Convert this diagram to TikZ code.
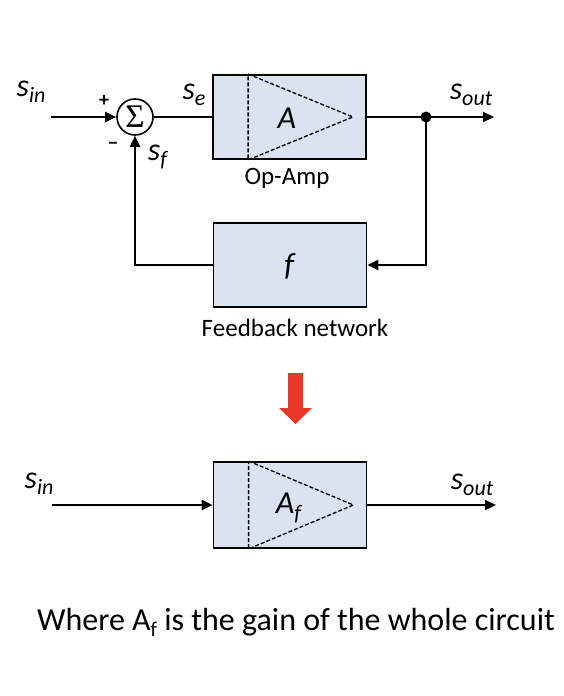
\documentclass[tikz,border=0pt]{standalone}
\usepackage{fontspec}
\setmainfont{Carlito}
\newfontfamily\sumfont{Liberation Serif}
\usetikzlibrary{calc,arrows.meta}
\definecolor{boxfill}{RGB}{220,227,240}
\definecolor{arrowred}{RGB}{234,56,40}
\newcommand\sname[1]{\textit{s}\raisebox{-6pt}{\fontsize{22}{22}\selectfont\textit{#1}}}
\tikzset{
	block/.style={draw, line width=1.8pt, fill=boxfill, minimum width=153pt, minimum height=84pt, inner sep=0pt},
	wire/.style={line width=2.2pt},
	sigline/.style={wire, -{Triangle[length=11pt,width=10pt]}},
	amptri/.style={dash pattern=on 4pt off 2pt, line width=1.3pt},
	lbl/.style={font=\fontsize{32}{32}\selectfont, inner sep=0pt},
	capt/.style={font=\fontsize{25}{25}\selectfont, inner sep=0pt}
}

\begin{document}
\begin{tikzpicture}[x=1pt,y=-1pt]
			%%%%% START %%%%%
			\useasboundingbox (0,0) rectangle (564,696);
			
			% feedback loop
			\node[block] (ampA) at (289.5,117) {};
			\draw[amptri] ($(ampA.north west)+(36,0)$) -- ($(ampA.east)+(-14,0)$) -- ($(ampA.south west)+(36,0)$) -- cycle;
			\node[lbl] (ampAtxt) at (287,118) {\textit{A}};
			\node[capt] (ampAcap) at (287,178) {Op-Amp};
			
			\node[block] (fbk) at (290,265) {};
			\node[lbl] (fbktxt) at (290,266) {\textit{f}};
			\node[capt] (fbkcap) at (295,328) {Feedback network};
			
			\node[draw, circle, line width=1.6pt, minimum size=36pt, inner sep=0pt] (sum) at (135,117) {};
			\node[inner sep=0pt, font=\sumfont\fontsize{33}{33}\selectfont] (sumtxt) at (sum.center) {Σ};
			
			\coordinate (inL) at (51,117);
			\coordinate (tap) at (426,117);
			\coordinate (outR) at (494,117);
			
			\draw[sigline] (inL) -- (sum.west);
			\draw[wire] (sum.east) -- (ampA.west);
			\draw[sigline] (ampA.east) -- (outR);
			\fill (tap) circle (5.5);
			\draw[sigline] (tap) |- (fbk.east);
			\draw[sigline] (fbk.west) -| (sum.south);
			
			\node[lbl] (sin) at (31,92) {\sname{in}};
			\node[lbl] (se) at (194,95) {\sname{e}};
			\node[lbl] (sf) at (158,157) {\sname{f}};
			\node[lbl] (sout) at (471,95) {\sname{out}};
			\node[capt, font=\fontsize{20}{20}\selectfont\bfseries] (plus) at (104,101) {+};
			\node[capt, font=\fontsize{22}{22}\selectfont\bfseries] (minus) at (113,146) {\textendash};
			
			% red arrow
			\fill[arrowred] (288,373) -- (303,373) -- (303,408) -- (312,408) -- (295.5,424) -- (279,408) -- (288,408) -- cycle;
			
			% closed loop
			\node[block, minimum height=86pt] (ampF) at (290,505) {};
			\draw[amptri] ($(ampF.north west)+(36,0)$) -- ($(ampF.east)+(-14,0)$) -- ($(ampF.south west)+(36,0)$) -- cycle;
			\node[lbl] (ampFtxt) at (289,508) {\textit{A}\raisebox{-7pt}{\fontsize{22}{22}\selectfont\textit{f}}};
			
			\coordinate (inL2) at (52,505);
			\coordinate (outR2) at (496,505);
			\draw[sigline] (inL2) -- (ampF.west);
			\draw[sigline] (ampF.east) -- (outR2);
			\node[lbl] (sin2) at (39,484) {\sname{in}};
			\node[lbl] (sout2) at (472,485) {\sname{out}};
			
			\node[inner sep=0pt, font=\fontsize{32}{32}\selectfont] (note) at (296,622) {Where A\raisebox{-6pt}{\fontsize{21}{21}\selectfont f} is the gain of the whole circuit};
			%%%%% END %%%%%
\end{tikzpicture}
\end{document}
